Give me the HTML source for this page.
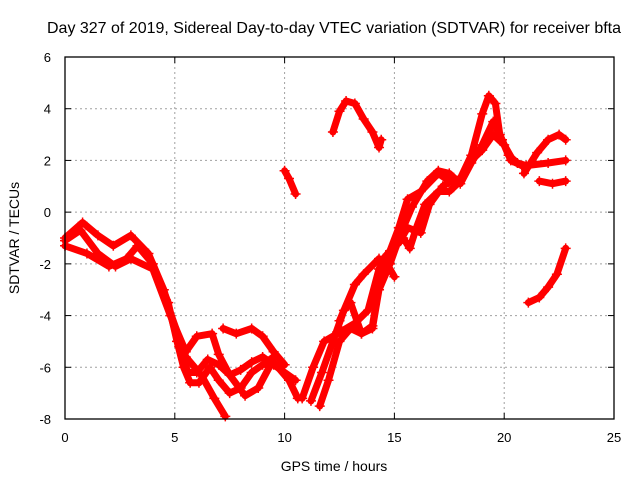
<!DOCTYPE html>
<html><head><meta charset="utf-8">
<style>
body{margin:0;background:#fff;}
svg{display:block;font-family:"Liberation Sans",sans-serif;}
</style></head>
<body>
<svg id="chart" width="640" height="480" viewBox="0 0 640 480">
<text x="334" y="33" font-size="16" text-anchor="middle" textLength="574" lengthAdjust="spacingAndGlyphs">Day 327 of 2019, Sidereal Day-to-day VTEC variation (SDTVAR) for receiver bfta</text>
<text x="334" y="471" font-size="14" text-anchor="middle">GPS time / hours</text>
<text transform="translate(19,238) rotate(-90)" font-size="14" text-anchor="middle">SDTVAR / TECUs</text>
<g id="grid"></g>
<g id="series"></g>
<g id="axes"></g>
</svg>
<script>
const xTicks=[0,5,10,15,20,25];
const yTicks=[-8,-6,-4,-2,0,2,4,6];
const trackT1=[[0,-1.0],[0.8,-0.4],[1.5,-0.9],[2.2,-1.3],[3,-0.9],[3.8,-1.6],[4.5,-3.0],[5.2,-5.2],[5.6,-6.2],[6,-6.2],[6.5,-5.7],[7,-5.9],[7.5,-6.3],[8,-6.1],[8.5,-5.8],[9,-5.6],[9.5,-5.9],[10,-6.2],[10.5,-6.5]];
const trackT2=[[0,-1.3],[1,-1.6],[2,-2.1],[2.8,-1.8],[3.3,-1.3],[4,-2.0],[4.7,-3.5],[5.1,-5.0],[5.4,-6.0],[5.7,-6.6],[6.1,-6.6],[6.6,-6.0],[7,-6.5],[7.5,-7.0],[8,-6.8],[8.5,-6.2],[9,-5.9],[9.5,-5.6]];
const trackT3=[[0,-1.1],[0.7,-0.7],[1.5,-1.6],[2.3,-2.1],[3,-1.8],[4,-2.2],[4.8,-4],[5.5,-5.4],[6,-4.8],[6.7,-4.7],[7,-5.5],[7.5,-6.3],[8.2,-7.1],[8.8,-6.8],[9.3,-6.0],[9.5,-5.8],[10.2,-6.5],[10.6,-7.2]];
const trackT4=[[4.6,-3.4],[5.5,-5.6],[6.2,-6.3],[6.8,-7.2],[7.3,-7.9]];
const trackT5=[[7.2,-4.5],[7.8,-4.7],[8.5,-4.5],[9,-4.8],[9.5,-5.4],[10,-5.9]];
const trackArc=[[12.2,3.1],[12.5,3.9],[12.8,4.3],[13.2,4.2],[13.6,3.6],[14,3.1],[14.3,2.5],[14.4,2.8]];
const trackShort=[[10.0,1.6],[10.2,1.3],[10.5,0.7]];
const trackLowRight=[[21.1,-3.5],[21.6,-3.3],[22.0,-2.9],[22.4,-2.4],[22.8,-1.4]];
const trackTailA=[[21.6,1.2],[22.2,1.1],[22.8,1.2]];
const trackTailB=[[20.9,1.5],[21.5,2.3],[22,2.8],[22.5,3.0],[22.8,2.8]];
const trackR1=[[10.8,-7.2],[11.3,-6],[11.8,-5],[12.2,-4.8],[12.6,-4.6],[13.2,-4.3],[13.8,-3.8],[14.3,-2.2],[14.8,-1.5],[15.2,-0.6],[15.6,0.5],[16.2,0.8],[17,1.5],[17.5,1.2],[18,1.3],[18.5,2.2],[19,3.8],[19.3,4.5],[19.6,4.2],[19.8,3.0],[20.2,2.2],[20.6,1.9],[21,1.8],[22,1.9],[22.8,2.0]];
const trackR2=[[11.6,-7.5],[12,-6.5],[12.5,-5.0],[13,-4.5],[13.5,-4.7],[14,-4.5],[14.3,-3.0],[14.8,-2.0],[15.3,-0.8],[15.8,0.2],[16.5,1.2],[17,1.6],[17.5,1.5],[18,1.1],[18.5,1.9],[19,2.6],[19.5,3.5],[19.9,2.8],[20.3,2.0],[20.8,1.8]];
const trackR3=[[11.2,-7.3],[11.7,-6.2],[12.2,-5.0],[12.7,-3.8],[13,-3.5],[13.5,-4.7],[14,-4.4],[14.5,-1.8],[15,-1.3],[15.4,-1.0],[15.7,-1.4],[16.0,-0.6],[16.4,0.3],[17,0.8],[17.5,0.8],[18,1.2],[18.5,2.0],[19,2.4],[19.5,3.0],[20,2.6],[20.4,2.0],[21,1.7]];
const trackR4=[[12.5,-4.2],[13.2,-2.8],[13.6,-2.4],[14.3,-1.8],[14.6,-1.9],[15,-2.5]];
const trackR5=[[15.2,-1.2],[15.6,-0.6],[16.2,-0.8],[16.6,0.3],[17.2,1.0],[17.6,1.2]];
const tracks=[trackT1,trackT2,trackT3,trackT4,trackT5,trackArc,trackShort,trackLowRight,trackTailA,trackTailB,trackR1,trackR2,trackR3,trackR4,trackR5];

const X0=65,X1=614,Y0=419,Y1=57;
const xS=v=>X0+(v-0)/(25-0)*(X1-X0);
const yS=v=>Y0-(v-(-8))/(6-(-8))*(Y0-Y1);
const NS="http://www.w3.org/2000/svg";
function mk(tag,attrs,parent){const e=document.createElementNS(NS,tag);for(const k in attrs)e.setAttribute(k,attrs[k]);parent.appendChild(e);return e;}
const grid=document.getElementById('grid'),axes=document.getElementById('axes'),ser=document.getElementById('series');
xTicks.forEach(t=>{
  const x=xS(t);
  if(t>0&&t<25){const g=mk('line',{x1:x,x2:x,y1:Y1,y2:Y0,stroke:'#a0a0a0','stroke-dasharray':'2,3','stroke-width':1},grid);
  
  }
  mk('line',{x1:x,x2:x,y1:Y0,y2:Y0-6,stroke:'#000'},axes);
  mk('line',{x1:x,x2:x,y1:Y1,y2:Y1+6,stroke:'#000'},axes);
  const l=mk('text',{x:x,y:Y0+23,'font-size':13,'text-anchor':'middle'},axes);l.textContent=t;
  
  
});
yTicks.forEach(t=>{
  const y=yS(t);
  if(t>-8&&t<6){const g=mk('line',{x1:X0,x2:X1,y1:y,y2:y,stroke:'#a0a0a0','stroke-dasharray':'2,3','stroke-width':1},grid);
  
  }
  mk('line',{x1:X0,x2:X0+6,y1:y,y2:y,stroke:'#000'},axes);
  mk('line',{x1:X1,x2:X1-6,y1:y,y2:y,stroke:'#000'},axes);
  const l=mk('text',{x:X0-14,y:y+5,'font-size':13,'text-anchor':'end'},axes);l.textContent=t;
  
  
});
mk('rect',{x:X0,y:Y1,width:X1-X0,height:Y0-Y1,fill:'none',stroke:'#000','stroke-width':1.3},axes);
tracks.forEach(tr=>{
  const pts=tr.map(p=>xS(p[0]).toFixed(1)+','+yS(p[1]).toFixed(1)).join(' ');
  const pl=mk('polyline',{points:pts,fill:'none',stroke:'#ff0000','stroke-width':7,'stroke-linejoin':'round','stroke-linecap':'round'},ser);
  
  
  tr.forEach(p=>{
    const x=xS(p[0]),y=yS(p[1]);
    mk('path',{d:`M${x-5},${y}H${x+5}M${x},${y-5}V${y+5}`,stroke:'#ff0000','stroke-width':1.5},ser);
  });
});
</script>
</body></html>
